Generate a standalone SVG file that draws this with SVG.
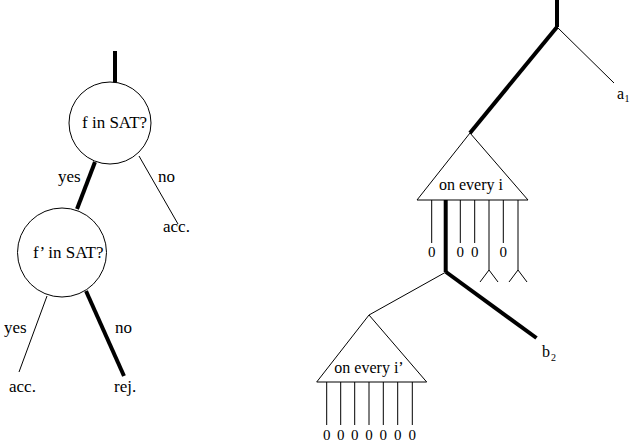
<svg xmlns="http://www.w3.org/2000/svg" width="630" height="446" viewBox="0 0 630 446">
<style>
text{font-family:"Liberation Serif","DejaVu Serif","Times New Roman",serif;fill:#000}
.t{font-size:17px}
.s{font-size:16px}
.z{font-size:15px}
.sub{font-size:10px}
.thin{stroke:#000;stroke-width:1;fill:none}
.thick{stroke:#000;stroke-width:4;fill:none}
.node{stroke:#000;stroke-width:1;fill:#fff}
</style>
<rect width="630" height="446" fill="#fff"/>
<g id="connectors">
  <line class="thick" x1="115" y1="51" x2="115" y2="83"/>
  <line class="thick" x1="95" y1="162" x2="77" y2="209"/>
  <line class="thin" x1="139" y1="156" x2="178" y2="224"/>
  <line class="thin" x1="47" y1="296" x2="19" y2="372"/>
  <line class="thick" x1="86" y1="291" x2="124" y2="376"/>
  <line class="thick" x1="557" y1="0" x2="557" y2="27"/>
  <line class="thick" x1="557" y1="27" x2="470" y2="133"/>
  <line class="thin" x1="557" y1="27" x2="614" y2="83"/>
  <line class="thin" x1="431.7" y1="200" x2="431.7" y2="243"/>
  <line class="thick" x1="445.7" y1="200" x2="445.7" y2="272"/>
  <line class="thin" x1="460.3" y1="200" x2="460.3" y2="243"/>
  <line class="thin" x1="474.7" y1="200" x2="474.7" y2="243"/>
  <polyline class="thin" points="480,282 489,270 498,282"/>
  <line class="thin" x1="489" y1="200" x2="489" y2="270"/>
  <line class="thin" x1="503.3" y1="200" x2="503.3" y2="243"/>
  <line class="thin" x1="518" y1="200" x2="518" y2="270"/>
  <polyline class="thin" points="509,282 518,270 527,282"/>
  <line class="thick" x1="446" y1="272" x2="536.5" y2="338"/>
  <line class="thin" x1="446" y1="272" x2="369" y2="315"/>
  <line class="thin" x1="326.7" y1="382" x2="326.7" y2="425"/>
  <line class="thin" x1="340.7" y1="382" x2="340.7" y2="425"/>
  <line class="thin" x1="354.7" y1="382" x2="354.7" y2="425"/>
  <line class="thin" x1="369" y1="382" x2="369" y2="425"/>
  <line class="thin" x1="383.3" y1="382" x2="383.3" y2="425"/>
  <line class="thin" x1="397.7" y1="382" x2="397.7" y2="425"/>
  <line class="thin" x1="412.3" y1="382" x2="412.3" y2="425"/>
</g>
<g id="q1">
  <circle class="node" cx="110" cy="123" r="41"/>
  <text class="t" x="82" y="128">f in SAT?</text>
</g>
<g id="q2">
  <circle class="node" cx="62" cy="252.5" r="44.5"/>
  <text class="t" x="33" y="258">f’ in SAT?</text>
</g>
<g id="labels-left">
  <text class="t" x="58" y="182">yes</text>
  <text class="t" x="158" y="182">no</text>
  <text class="t" x="163" y="232">acc.</text>
  <text class="t" x="4" y="333">yes</text>
  <text class="t" x="115" y="333">no</text>
  <text class="t" x="9" y="392">acc.</text>
  <text class="t" x="114" y="392">rej.</text>
</g>
<g id="tri1">
  <polygon class="node" points="470,133 417,200 528,200"/>
  <text class="s" x="471" y="190" text-anchor="middle">on every i</text>
</g>
<g id="tri2">
  <polygon class="node" points="369,315 316.7,382 426.7,382"/>
  <text class="s" x="369" y="373" text-anchor="middle">on every i’</text>
</g>
<g id="leaves">
  <text class="z" x="431.7" y="257" text-anchor="middle">0</text>
  <text class="z" x="460.3" y="257" text-anchor="middle">0</text>
  <text class="z" x="474.7" y="257" text-anchor="middle">0</text>
  <text class="z" x="503.3" y="257" text-anchor="middle">0</text>
  <text class="z" x="326.7" y="440" text-anchor="middle">0</text>
  <text class="z" x="340.7" y="440" text-anchor="middle">0</text>
  <text class="z" x="354.7" y="440" text-anchor="middle">0</text>
  <text class="z" x="369" y="440" text-anchor="middle">0</text>
  <text class="z" x="383.3" y="440" text-anchor="middle">0</text>
  <text class="z" x="397.7" y="440" text-anchor="middle">0</text>
  <text class="z" x="412.3" y="440" text-anchor="middle">0</text>
</g>
<g id="a1">
  <text class="s" x="617" y="99">a</text>
  <text class="sub" x="624.5" y="102">1</text>
</g>
<g id="b2">
  <text class="s" x="542" y="357">b</text>
  <text class="sub" x="551" y="361">2</text>
</g>
</svg>
